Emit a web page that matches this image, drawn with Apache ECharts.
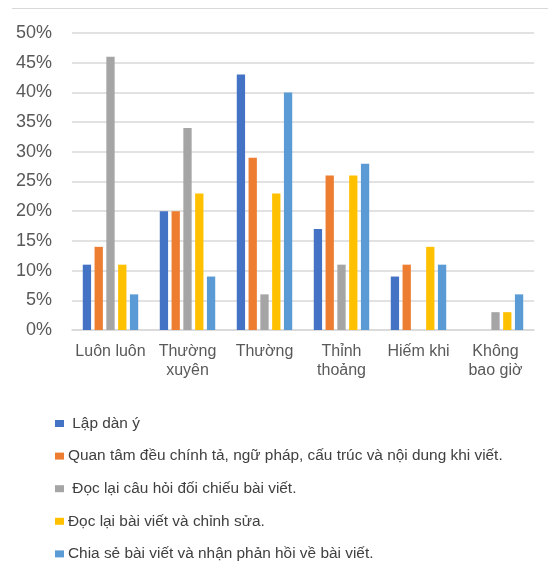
<!DOCTYPE html>
<html><head><meta charset="utf-8">
<script src="https://cdn.jsdelivr.net/npm/echarts@6/dist/echarts.min.js"></script>
<style>html,body{margin:0;padding:0;background:#fff}#c{width:551px;height:562px}</style>
</head><body><div id="c"></div>
<script>
var categories = ['Luôn luôn', 'Thường\nxuyên', 'Thường', 'Thỉnh\nthoảng', 'Hiếm khi', 'Không\nbao giờ'];
var seriesNames = [' Lập dàn ý', 'Quan tâm đều chính tả, ngữ pháp, cấu trúc và nội dung khi viết.', ' Đọc lại câu hỏi đối chiếu bài viết.', 'Đọc lại bài viết và chỉnh sửa.', 'Chia sẻ bài viết và nhận phản hồi về bài viết.'];
var lapDanY = [11, 20, 43, 17, 9, 0];
var quanTam = [14, 20, 29, 26, 11, 0];
var docLaiCauHoi = [46, 34, 6, 11, 0, 3];
var docLaiBaiViet = [11, 23, 23, 26, 14, 3];
var chiaSe = [6, 9, 40, 28, 11, 6];
var colors = ['#4472C4', '#ED7D31', '#A5A5A5', '#FFC000', '#5B9BD5'];
var allData = [lapDanY, quanTam, docLaiCauHoi, docLaiBaiViet, chiaSe];
var font = 'Liberation Sans, Arial, sans-serif';
var chart = echarts.init(document.getElementById('c'));
chart.setOption({
  animation: false,
  color: colors,
  graphic: [{type: 'line', shape: {x1: 12, y1: 8.5, x2: 548, y2: 8.5}, style: {stroke: '#d9d9d9', lineWidth: 1}}],
  grid: {left: 72, right: 17, top: 33, bottom: 232, containLabel: false},
  legend: {
    orient: 'vertical', left: 55, top: 416, padding: 0,
    itemWidth: 9, itemHeight: 7, itemGap: 17.6,
    icon: 'rect',
    textStyle: {fontFamily: font, fontSize: 15.4, color: '#404040', lineHeight: 15, padding: [0, 0, 0, -1]},
    data: seriesNames
  },
  xAxis: {
    type: 'category', data: categories,
    axisLine: {lineStyle: {color: '#d9d9d9', width: 1.5}},
    axisTick: {show: false},
    axisLabel: {fontFamily: font, fontSize: 16, color: '#595959', margin: 12, lineHeight: 19, interval: 0}
  },
  yAxis: {
    type: 'value', min: 0, max: 50, interval: 5,
    axisLabel: {formatter: '{value}%', fontFamily: font, fontSize: 18, color: '#595959', margin: 20},
    splitLine: {lineStyle: {color: '#d9d9d9', width: 1.5}},
    axisLine: {show: false}, axisTick: {show: false}
  },
  series: allData.map(function (d, i) {
    return {name: seriesNames[i], type: 'bar', data: d, barWidth: 8.3, barGap: '42%',
      itemStyle: {color: colors[i]}};
  })
});
</script></body></html>
